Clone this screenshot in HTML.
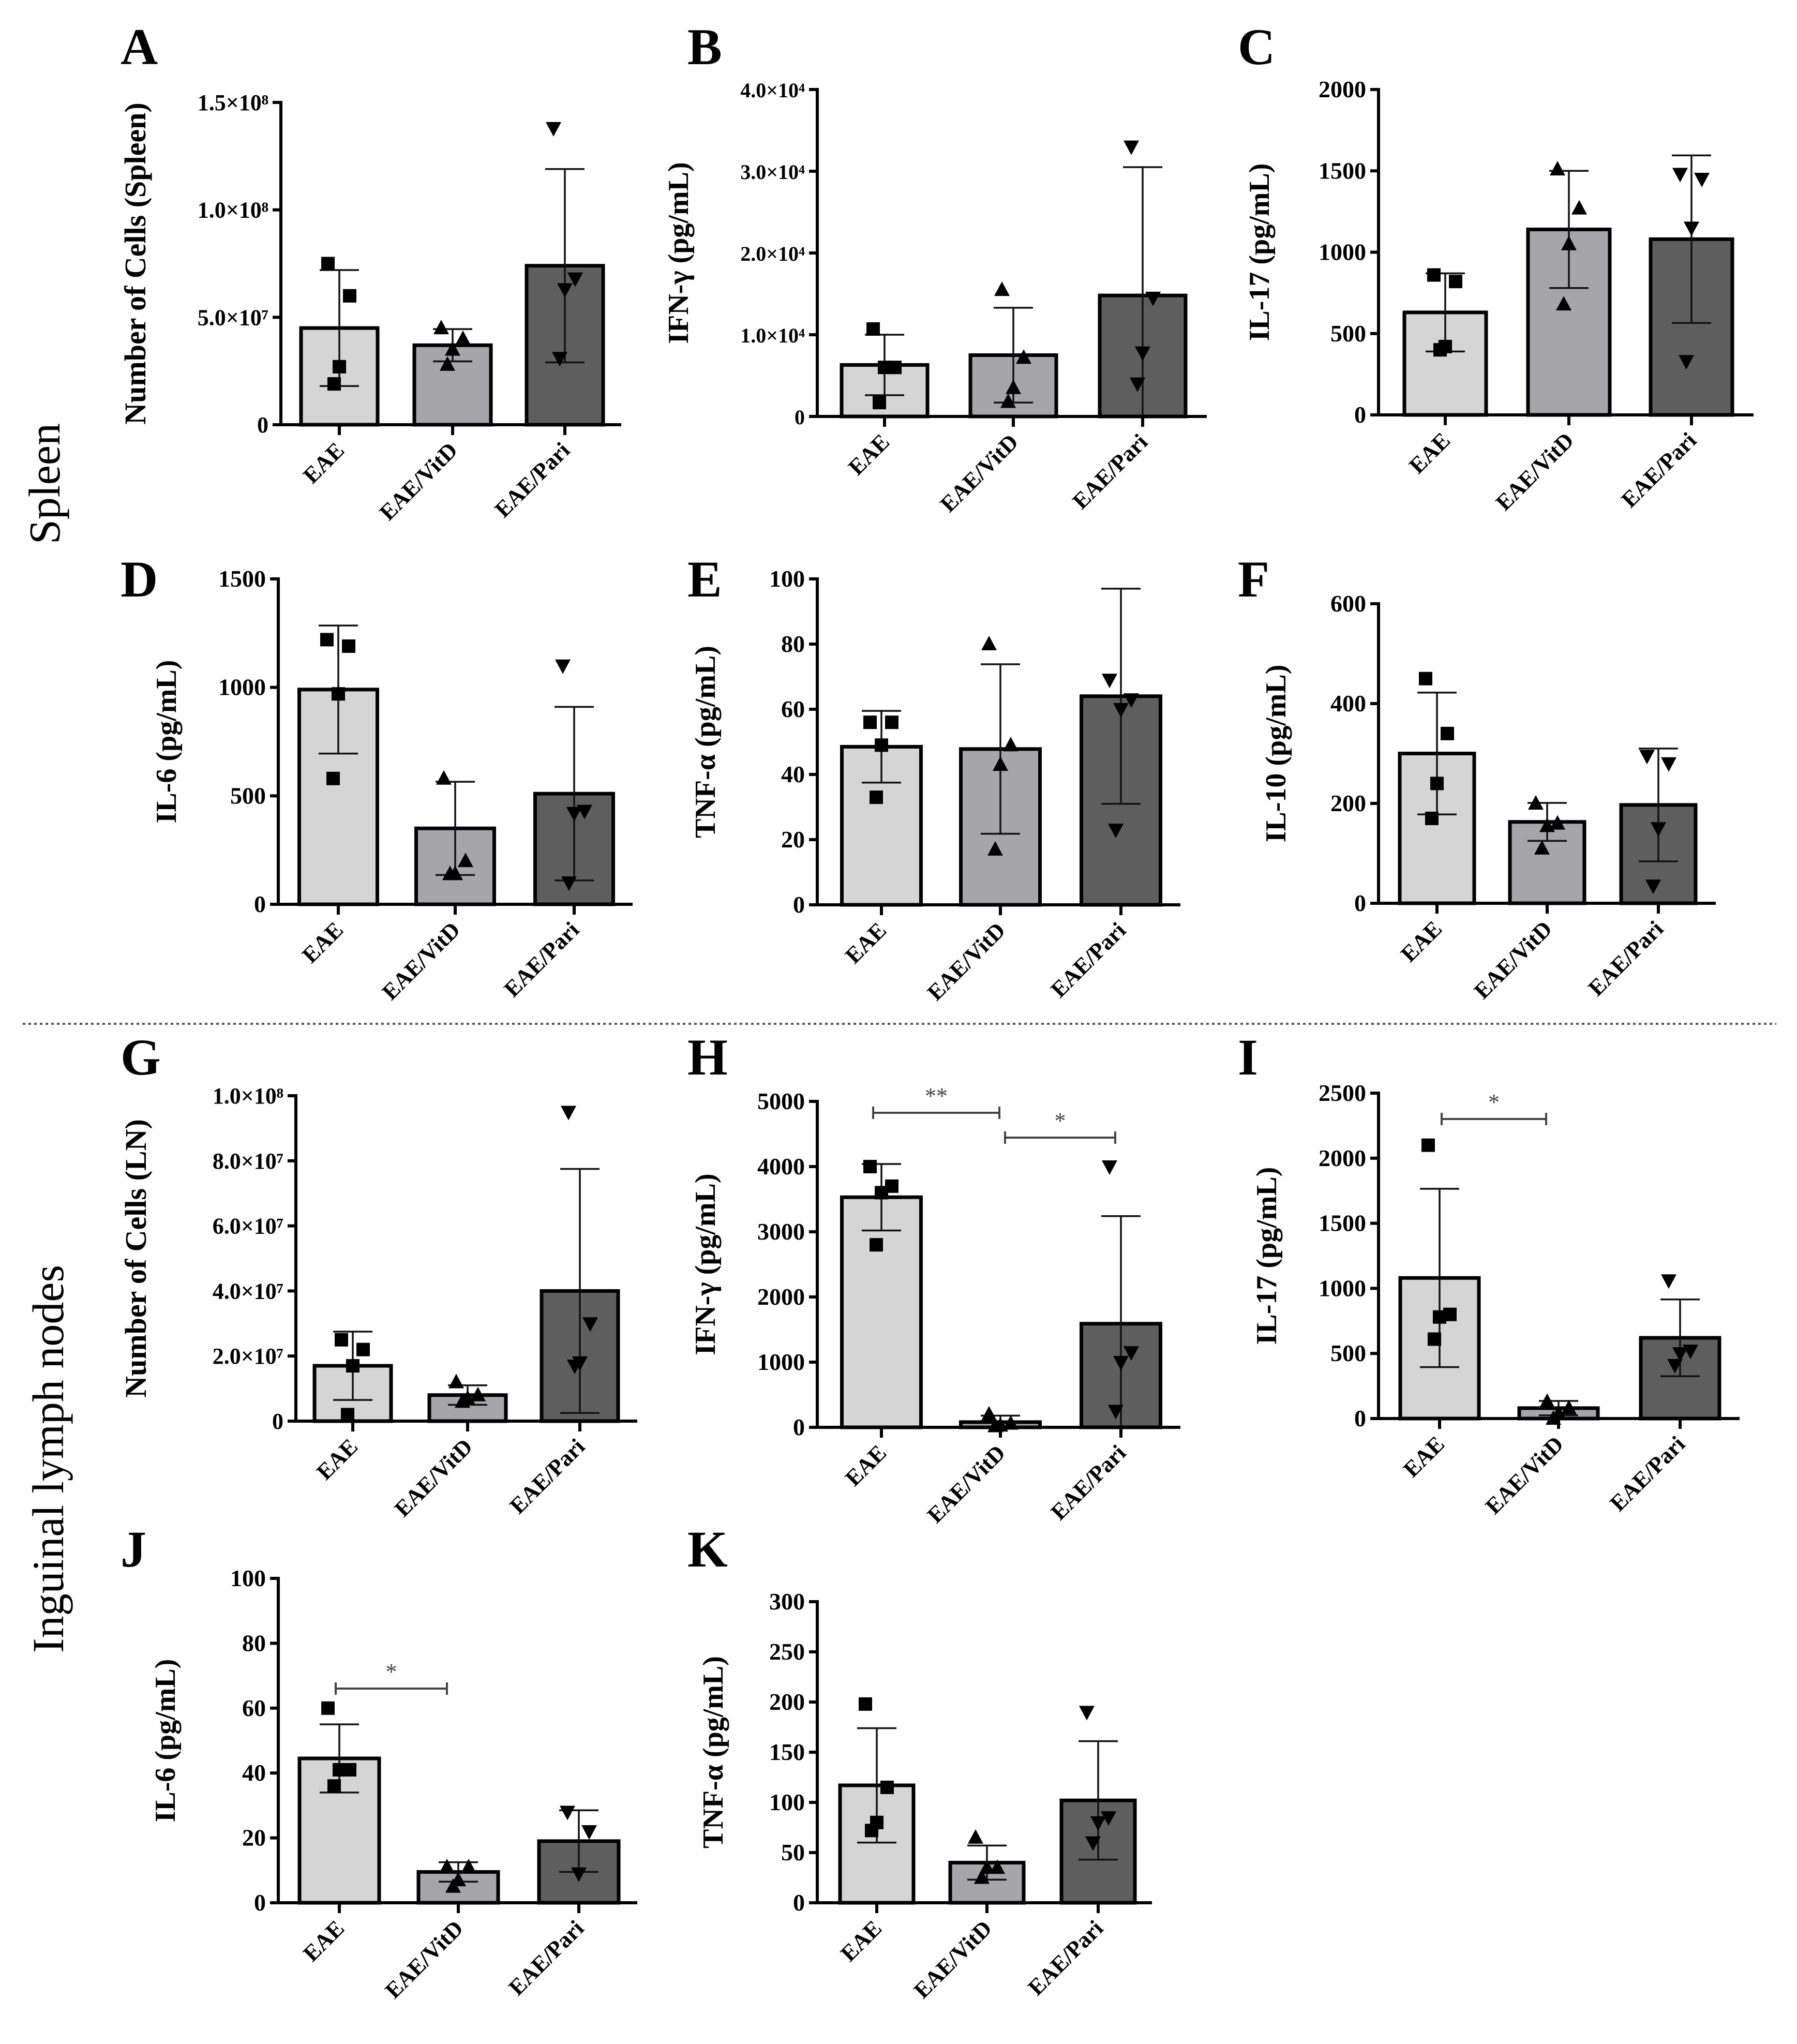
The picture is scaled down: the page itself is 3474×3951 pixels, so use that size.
<!DOCTYPE html>
<html><head><meta charset="utf-8">
<style>
html,body{margin:0;padding:0;background:#fff;}
svg{display:block;}
</style></head>
<body>
<svg id="fig" width="3474" height="3951" viewBox="0 0 3474 3951" xmlns="http://www.w3.org/2000/svg" font-family="Liberation Serif, serif">
<text transform="translate(115,935) rotate(-90)" text-anchor="middle" font-size="86">Spleen</text>
<text transform="translate(122,2820) rotate(-90)" text-anchor="middle" font-size="86">Inguinal lymph nodes</text>
<line x1="44" y1="1979" x2="3434" y2="1979" stroke="#555" stroke-width="4" stroke-dasharray="5,6"/>
</svg>
<script>
const categories = ["EAE", "EAE/VitD", "EAE/Pari"];
// Panel A (x1e7)
const aMeans = [4.5, 3.7, 7.4];
const aSD = [2.7, 0.75, 4.5];
const aPoints = [[7.5, 6.0, 2.7, 1.9], [4.5, 4.0, 3.5, 2.8], [13.8, 6.8, 6.3, 3.1]];
const aTicks = [0, 5, 10, 15];
const aTickLabels = ["0", "5.0×10⁷", "1.0×10⁸", "1.5×10⁸"];
// Panel B (x1e4)
const bMeans = [0.63, 0.75, 1.48];
const bSD = [0.37, 0.58, 1.57];
const bPoints = [[1.07, 0.6, 0.6, 0.17], [1.55, 0.72, 0.35, 0.18], [3.3, 1.45, 0.78, 0.4]];
const bTicks = [0, 1, 2, 3, 4];
const bTickLabels = ["0", "1.0×10⁴", "2.0×10⁴", "3.0×10⁴", "4.0×10⁴"];
// Panel C
const cMeans = [630, 1140, 1080];
const cSD = [240, 360, 515];
const cPoints = [[860, 820, 420, 400], [1510, 1270, 1050, 680], [1480, 1450, 1150, 330]];
const cTicks = [0, 500, 1000, 1500, 2000];
// Panel D
const dMeans = [990, 350, 510];
const dSD = [295, 215, 400];
const dPoints = [[1220, 1190, 970, 580], [580, 200, 140, 140], [1100, 430, 420, 100]];
const dTicks = [0, 500, 1000, 1500];
// Panel E
const eMeans = [48.5, 47.8, 64];
const eSD = [11, 26, 33];
const ePoints = [[56, 56, 49, 33], [80, 49, 43, 17], [69, 63, 60, 23]];
const eTicks = [0, 20, 40, 60, 80, 100];
// Panel F
const fMeans = [300, 163, 197];
const fSD = [122, 38, 113];
const fPoints = [[450, 340, 240, 170], [200, 160, 155, 110], [295, 280, 150, 35]];
const fTicks = [0, 200, 400, 600];
// Panel G (x1e7)
const gMeans = [1.7, 0.8, 4.0];
const gSD = [1.05, 0.3, 3.75];
const gPoints = [[2.5, 2.2, 1.7, 0.2], [1.2, 0.8, 0.7, 0.6], [9.5, 3.0, 1.8, 1.7]];
const gTicks = [0, 2, 4, 6, 8, 10];
const gTickLabels = ["0", "2.0×10⁷", "4.0×10⁷", "6.0×10⁷", "8.0×10⁷", "1.0×10⁸"];
// Panel H
const hMeans = [3530, 80, 1590];
const hSD = [510, 100, 1650];
const hPoints = [[4000, 3700, 3600, 2800], [200, 60, 30, 20], [4000, 1150, 1000, 250]];
const hTicks = [0, 1000, 2000, 3000, 4000, 5000];
// Panel I
const iMeans = [1080, 80, 620];
const iSD = [685, 55, 295];
const iPoints = [[2100, 800, 780, 610], [130, 80, 40, 0], [1060, 520, 500, 410]];
const iTicks = [0, 500, 1000, 1500, 2000, 2500];
// Panel J
const jMeans = [44.5, 9.5, 19];
const jSD = [10.5, 3, 9.5];
const jPoints = [[60, 41, 41, 36], [11, 11, 7, 5], [28, 22, 9]];
const jTicks = [0, 20, 40, 60, 80, 100];
// Panel K
const kMeans = [117, 40, 102];
const kSD = [57, 17, 59];
const kPoints = [[198, 115, 80, 72], [65, 35, 35, 25], [190, 85, 80, 60]];
const kTicks = [0, 50, 100, 150, 200, 250, 300];

const NS = "http://www.w3.org/2000/svg";
const svg = document.getElementById("fig");
const fills = ["#d5d5d5", "#a6a5aa", "#5e5e5e"];
const markerNames = ["square", "up-triangle", "down-triangle"];
function mk(tag, attrs, parent) {
  const e = document.createElementNS(NS, tag);
  for (const k in attrs) e.setAttribute(k, attrs[k]);
  (parent || svg).appendChild(e);
  return e;
}

function panel(cfg) {
  const g = mk("g", {});
  
  
  const maxV = cfg.ticks[cfg.ticks.length - 1];
  const y = v => cfg.y0 - (v / maxV) * (cfg.y0 - cfg.yTop);
  const x = i => cfg.centers[i];
  const bw = cfg.bw;
  const lt = mk("text", {x: cfg.lx, y: cfg.ly, "font-size": 100, "font-weight": "bold"}, g);
  lt.textContent = cfg.letter;
  
  
  for (let i = 0; i < 3; i++) {
    const b = mk("rect", {x: x(i) - bw / 2, y: y(cfg.means[i]), width: bw, height: cfg.y0 - y(cfg.means[i]), fill: fills[i], stroke: "#000", "stroke-width": 7}, g);
    
    
  }
  for (let i = 0; i < 3; i++) {
    const hi = y(cfg.means[i] + cfg.sd[i]), lo = y(Math.max(0, cfg.means[i] - cfg.sd[i]));
    const eg = mk("g", {stroke: "#111", "stroke-width": 3.5}, g);
    
    
    mk("line", {x1: x(i), x2: x(i), y1: hi, y2: lo}, eg);
    mk("line", {x1: x(i) - 38, x2: x(i) + 38, y1: hi, y2: hi}, eg);
    mk("line", {x1: x(i) - 38, x2: x(i) + 38, y1: lo, y2: lo}, eg);
  }
  const offs = [-22, 20, 0, -10];
  for (let i = 0; i < 3; i++) {
    cfg.points[i].forEach((v, j) => {
      const px = x(i) + offs[j % 4], py = y(v);
      let m;
      if (i === 0) m = mk("rect", {x: px - 13, y: py - 13, width: 26, height: 26, fill: "#000"}, g);
      else if (i === 1) m = mk("polygon", {points: `${px},${py - 16} ${px - 15},${py + 12} ${px + 15},${py + 12}`, fill: "#000"}, g);
      else m = mk("polygon", {points: `${px},${py + 16} ${px - 15},${py - 12} ${px + 15},${py - 12}`, fill: "#000"}, g);
      
      
    });
  }
  const ax = mk("g", {stroke: "#000", "stroke-width": 6}, g);
  
  
  mk("line", {x1: cfg.ax, x2: cfg.ax, y1: cfg.yTop - 3, y2: cfg.y0 + 3}, ax);
  mk("line", {x1: cfg.ax, x2: cfg.axEnd, y1: cfg.y0, y2: cfg.y0}, ax);
  cfg.ticks.forEach((t, k) => {
    mk("line", {x1: cfg.ax - 16, x2: cfg.ax, y1: y(t), y2: y(t)}, ax);
    const tl = mk("text", {x: cfg.ax - 24, y: y(t) + 15, "text-anchor": "end", "font-size": cfg.tickFs || 46, "font-weight": "bold", fill: "#000", stroke: "none"}, g);
    tl.textContent = cfg.tickLabels ? cfg.tickLabels[k] : String(t);
    
    
  });
  for (let i = 0; i < 3; i++) {
    mk("line", {x1: x(i), x2: x(i), y1: cfg.y0, y2: cfg.y0 + 20}, ax);
    const xl = mk("text", {transform: `translate(${x(i) + 12},${cfg.y0 + 52}) rotate(-45)`, "text-anchor": "end", "font-size": 44, "font-weight": "bold"}, g);
    xl.textContent = categories[i];
    
    
  }
  const yt = mk("text", {transform: `translate(${cfg.ax + cfg.labOff},${(cfg.yTop + cfg.y0) / 2 + (cfg.labDy || 0)}) rotate(-90)`, "text-anchor": "middle", "font-size": cfg.labFs || 56, "font-weight": "bold"}, g);
  yt.textContent = cfg.ylabel;
  
  
  (cfg.sig || []).forEach(s => {
    const sg = mk("g", {stroke: "#444", "stroke-width": 4}, g);
    
    
    mk("line", {x1: s[0], x2: s[1], y1: s[2], y2: s[2]}, sg);
    mk("line", {x1: s[0], x2: s[0], y1: s[2] - 12, y2: s[2] + 12}, sg);
    mk("line", {x1: s[1], x2: s[1], y1: s[2] - 12, y2: s[2] + 12}, sg);
    const st = mk("text", {x: (s[0] + s[1]) / 2, y: s[2] - 18, "text-anchor": "middle", "font-size": 44, fill: "#444", stroke: "none"}, sg);
    st.textContent = s[3];
    
    
  });
}

panel({letter: "A", lx: 233, ly: 124, ax: 543, axEnd: 1201, yTop: 198, y0: 821, centers: [656, 875, 1092], bw: 148,
  means: aMeans, sd: aSD, points: aPoints, ticks: aTicks, tickLabels: aTickLabels, tickFs: 44, ylabel: "Number of Cells (Spleen)", labOff: -262, labFs: 58});
panel({letter: "B", lx: 1329, ly: 124, ax: 1580, axEnd: 2333, yTop: 173, y0: 805, centers: [1710, 1959, 2209], bw: 166,
  means: bMeans, sd: bSD, points: bPoints, ticks: bTicks, tickLabels: bTickLabels, tickFs: 40, ylabel: "IFN-γ (pg/mL)", labOff: -250});
panel({letter: "C", lx: 2393, ly: 124, ax: 2665, axEnd: 3390, yTop: 173, y0: 802, centers: [2794, 3033, 3270], bw: 158,
  means: cMeans, sd: cSD, points: cPoints, ticks: cTicks, ylabel: "IL-17 (pg/mL)", labOff: -212});
panel({letter: "D", lx: 233, ly: 1153, ax: 538, axEnd: 1223, yTop: 1119, y0: 1748, centers: [654, 880, 1110], bw: 151,
  means: dMeans, sd: dSD, points: dPoints, ticks: dTicks, ylabel: "IL-6 (pg/mL)", labOff: -198});
panel({letter: "E", lx: 1329, ly: 1153, ax: 1580, axEnd: 2282, yTop: 1119, y0: 1749, centers: [1704, 1934, 2167], bw: 153,
  means: eMeans, sd: eSD, points: ePoints, ticks: eTicks, ylabel: "TNF-α (pg/mL)", labOff: -198});
panel({letter: "F", lx: 2393, ly: 1153, ax: 2665, axEnd: 3317, yTop: 1167, y0: 1746, centers: [2778, 2991, 3206], bw: 144,
  means: fMeans, sd: fSD, points: fPoints, ticks: fTicks, ylabel: "IL-10 (pg/mL)", labOff: -180});
panel({letter: "G", lx: 233, ly: 2077, ax: 572, axEnd: 1232, yTop: 2118, y0: 2747, centers: [682, 904, 1121], bw: 148,
  means: gMeans, sd: gSD, points: gPoints, ticks: gTicks, tickLabels: gTickLabels, tickFs: 44, ylabel: "Number of Cells (LN)", labOff: -290, labFs: 58});
panel({letter: "H", lx: 1329, ly: 2077, ax: 1580, axEnd: 2282, yTop: 2129, y0: 2759, centers: [1704, 1934, 2167], bw: 153,
  means: hMeans, sd: hSD, points: hPoints, ticks: hTicks, ylabel: "IFN-γ (pg/mL)", labOff: -198,
  sig: [[1688, 1932, 2151, "**"], [1943, 2156, 2199, "*"]]});
panel({letter: "I", lx: 2393, ly: 2077, ax: 2665, axEnd: 3363, yTop: 2113, y0: 2742, centers: [2783, 3013, 3248], bw: 152,
  means: iMeans, sd: iSD, points: iPoints, ticks: iTicks, ylabel: "IL-17 (pg/mL)", labOff: -198,
  sig: [[2787, 2989, 2163, "*"]]});
panel({letter: "J", lx: 233, ly: 3028, ax: 538, axEnd: 1232, yTop: 3051, y0: 3678, centers: [656, 886, 1119], bw: 154,
  means: jMeans, sd: jSD, points: jPoints, ticks: jTicks, ylabel: "IL-6 (pg/mL)", labOff: -200,
  sig: [[649, 864, 3264, "*"]]});
panel({letter: "K", lx: 1329, ly: 3028, ax: 1580, axEnd: 2227, yTop: 3096, y0: 3678, centers: [1695, 1908, 2123], bw: 142,
  means: kMeans, sd: kSD, points: kPoints, ticks: kTicks, ylabel: "TNF-α (pg/mL)", labOff: -183});
</script>
</body></html>
